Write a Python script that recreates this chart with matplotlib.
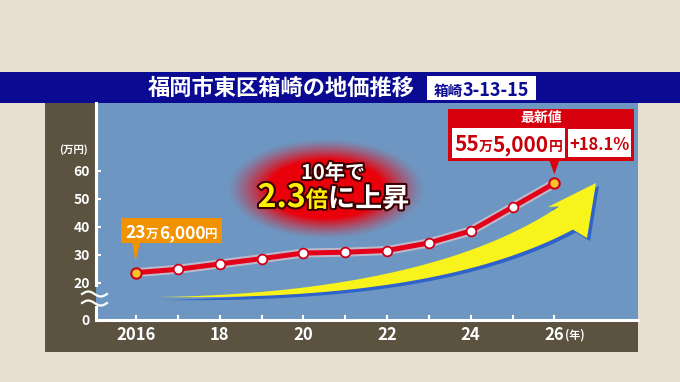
import numpy as np
import matplotlib
matplotlib.use('Agg')
import matplotlib.pyplot as plt
from matplotlib import patheffects as pe
from matplotlib.patches import Rectangle, Polygon
from matplotlib.lines import Line2D

plt.rcParams['font.family'] = ['Noto Sans CJK JP', 'DejaVu Sans']
plt.rcParams['font.weight'] = 'bold'

# ---- data (万円) ----
years = [2016, 2017, 2018, 2019, 2020, 2021, 2022, 2023, 2024, 2025, 2026]
price = [23.6, 24.8, 26.7, 28.6, 30.6, 30.9, 31.5, 34.2, 38.5, 47.0, 55.5]
ytick_vals = [20, 30, 40, 50, 60]
xtick_labels = ['2016', '', '18', '', '20', '', '22', '', '24', '', '26']
title = '福岡市東区箱崎の地価推移'
address = ['箱崎', '3-13-15']
first_label = ['23', '万', '6,000', '円']
latest_label = ['55', '万', '5,000', '円']
latest_head = '最新値'
change_label = '+18.1%'
msg_top = '10年で'
msg_bottom = ['2.3', '倍', 'に上昇']

W, H = 680, 382
BLUE = '#6D97C2'
BROWN = '#5B5240'
NAVY = '#0A0A92'
RED = '#E5001A'

fig = plt.figure(figsize=(6.8, 3.82), dpi=100)
fig.patch.set_facecolor('#E7E0D2')


def fx(x):
    return x / W


def fy(y):
    return 1 - y / H


def frect(x0, y0, x1, y1, color, z, **kw):
    fig.add_artist(Rectangle((fx(x0), fy(y1)), (x1 - x0) / W, (y1 - y0) / H,
                             transform=fig.transFigure, facecolor=color,
                             edgecolor='none', zorder=z, **kw))


def rich(pieces, x, y, z=8, effects=None):
    """pieces of (text, size, color) laid side by side, centred on x, baseline y (pixels)"""
    r = fig.canvas.get_renderer()
    ts = []
    for s, size, c in pieces:
        t = fig.text(0, fy(y), s, fontsize=size, color=c, fontweight='bold',
                     va='baseline', ha='left', zorder=z)
        if effects:
            t.set_path_effects(effects)
        ts.append(t)
    ws = [t.get_window_extent(r).width for t in ts]
    cur = x - sum(ws) / 2
    for t, w in zip(ts, ws):
        t.set_x(fx(cur))
        cur += w
    return ts


# background panels
frect(0, 72.3, W, 103.3, NAVY, -5)
frect(45, 103, 638, 351.7, BROWN, -5)

ax_l, ax_r, ax_t, ax_b = 95.5, 638, 103, 319.5
ax = fig.add_axes([fx(ax_l), fy(ax_b), (ax_r - ax_l) / W, (ax_b - ax_t) / H])
ax.set_facecolor(BLUE)
ax.set_xlim(2015.03, 2028.0)
ax.set_ylim(6.86, 84.2)
ax.set_autoscale_on(False)


def axf(x, y):
    return (np.asarray(x) - ax_l) / (ax_r - ax_l), (ax_b - np.asarray(y)) / (ax_b - ax_t)


for side in ['top', 'right']:
    ax.spines[side].set_visible(False)
for side in ['left', 'bottom']:
    ax.spines[side].set_color('white')
    ax.spines[side].set_linewidth(2.2)
    ax.spines[side].set_zorder(6)

ax.set_xticks(years)
ax.set_xticklabels(xtick_labels)
ax.set_yticks([6.86] + ytick_vals)
ax.set_yticklabels(['0'] + [str(v) for v in ytick_vals])
ax.tick_params(direction='in', color='white', labelcolor='white', length=3.5, width=1.5)
ax.tick_params(axis='x', labelsize=12, pad=5)
ax.tick_params(axis='y', labelsize=10, pad=4)
for lbl in ax.get_xticklabels() + ax.get_yticklabels():
    lbl.set_fontweight('bold')

# red glow behind the message
gx0, gx1, gy0, gy1 = 226, 426, 138, 240
u = np.linspace(-1, 1, 200)
v = np.linspace(-1, 1, 102)
U, V = np.meshgrid(u, v)
rr = np.sqrt(U ** 2 + V ** 2)
img = np.zeros((102, 200, 4))
img[..., 0] = 0.92
img[..., 2] = 0.04
img[..., 3] = np.clip((1 - rr) / 0.42, 0, 1) ** 1.3
ex0, ey1 = axf(gx0, gy1)
ex1, ey0 = axf(gx1, gy0)
ax.imshow(img, extent=[ex0, ex1, ey1, ey0], transform=ax.transAxes,
          aspect='auto', zorder=1, interpolation='bilinear')

# yellow sweeping arrow
s = np.linspace(0, 1, 80)
P0, P1, P2 = np.array([157, 297.]), np.array([434, 297.]), np.array([566, 218.])
C = ((1 - s) ** 2)[:, None] * P0 + (2 * s * (1 - s))[:, None] * P1 + (s ** 2)[:, None] * P2
T = 2 * (1 - s)[:, None] * (P1 - P0) + 2 * s[:, None] * (P2 - P1)
T /= np.linalg.norm(T, axis=1)[:, None]
N = np.stack([-T[:, 1], T[:, 0]], 1)
wid = 27 * s ** 1.2
upper = C - N * wid[:, None] / 2
lower = C + N * wid[:, None] / 2
head = np.array([[548, 207], [596, 183], [587, 238.]])
arrow = np.vstack([upper, head, lower[::-1]])
for off, col, z in [(3, '#2F63C9', 2), (0, '#F9F31C', 3)]:
    axx, axy = axf(arrow[:, 0] + off, arrow[:, 1] + off)
    ax.fill(axx, axy, transform=ax.transAxes, color=col, lw=0, zorder=z)

# price line
ax.plot(years, price, color=RED, lw=3.6, zorder=4, solid_capstyle='round',
        path_effects=[pe.Stroke(linewidth=6.5, foreground='#FFD6D6', alpha=0.55), pe.Normal()])
ax.plot(years[1:-1], price[1:-1], 'o', ms=7, mfc='white', mec='#D00018', mew=1.3, zorder=5)
ax.plot([years[0], years[-1]], [price[0], price[-1]], 'o', ms=7.5, mfc='#F7C52A',
        mec='#D00018', mew=1.5, zorder=5)

# axis break marks
frect(92.5, 287, ax_l, 306, BROWN, 2)
frect(ax_l, 287, 98.5, 306, BLUE, 2)
xs = np.linspace(82, 107, 40)
for yc in [294, 303]:
    ys = yc - 2.5 * np.sin(2 * np.pi * (xs - 82) / 25)
    fig.add_artist(Line2D(fx(xs), fy(ys), color='white', lw=1.6,
                          transform=fig.transFigure, zorder=3))

fig.text(fx(73.5), fy(150), '(万円)', fontsize=7.5, color='white', ha='center', va='center')
fig.text(fx(565), fy(335.5), '(年)', fontsize=8, color='white', ha='left', va='center')

# title bar
fig.text(fx(281.5), fy(88.5), title, fontsize=16, color='white', ha='center', va='center')
frect(427, 76, 535.6, 100, 'white', 2)
rich([(address[0], 10.5, NAVY), (address[1], 13, NAVY)], 481.3, 95.5)

# first value callout
d0 = ax.transData.transform((years[0], price[0]))
p0x, p0y = d0[0], H - d0[1]
frect(p0x - 14.6, p0y - 54.7, p0x + 86, p0y - 29.7, '#F39200', 6)
fig.add_artist(Polygon([[fx(p0x - 4), fy(p0y - 30)], [fx(p0x + 4), fy(p0y - 30)],
                        [fx(p0x - 0.5), fy(p0y - 11)]], closed=True,
                       transform=fig.transFigure, facecolor='#F39200', edgecolor='none', zorder=6))
rich([(first_label[0], 12.5, 'white'), (first_label[1], 9, 'white'),
      (first_label[2], 12.5, 'white'), (first_label[3], 9, 'white')],
     p0x + 35.7, p0y - 34.5)

# latest value callout
d1 = ax.transData.transform((years[-1], price[-1]))
p1x, p1y = d1[0], H - d1[1]
frect(p1x - 106, p1y - 74.7, p1x + 80, p1y - 22.7, '#D7000F', 6)
fig.add_artist(Polygon([[fx(p1x - 5), fy(p1y - 23)], [fx(p1x + 5), fy(p1y - 23)],
                        [fx(p1x), fy(p1y - 9)]], closed=True,
                       transform=fig.transFigure, facecolor='#D7000F', edgecolor='none', zorder=6))
frect(p1x - 102, p1y - 55.7, p1x + 10.5, p1y - 25.7, 'white', 7)
frect(p1x + 13.5, p1y - 54.7, p1x + 76.5, p1y - 26.7, 'white', 7)
rich([(latest_head, 10, 'white')], p1x - 13.5, p1y - 61)
rich([(latest_label[0], 15, '#C8000A'), (latest_label[1], 10, '#C8000A'),
      (latest_label[2], 15, '#C8000A'), (latest_label[3], 10, '#C8000A')],
     p1x - 46, p1y - 32)
rich([(change_label, 12, '#C8000A')], p1x + 45, p1y - 33.5)

# central message
stroke = [pe.withStroke(linewidth=3, foreground='#3A0000')]
rich([(msg_top, 14.5, 'white')], 333, 179, effects=stroke)
rich([(msg_bottom[0], 23, '#FFF200'), (msg_bottom[1], 16, '#FFF200'),
      (msg_bottom[2], 19.5, 'white')], 333.5, 207, effects=stroke)

fig.savefig('out.png', dpi=100, facecolor=fig.get_facecolor())
